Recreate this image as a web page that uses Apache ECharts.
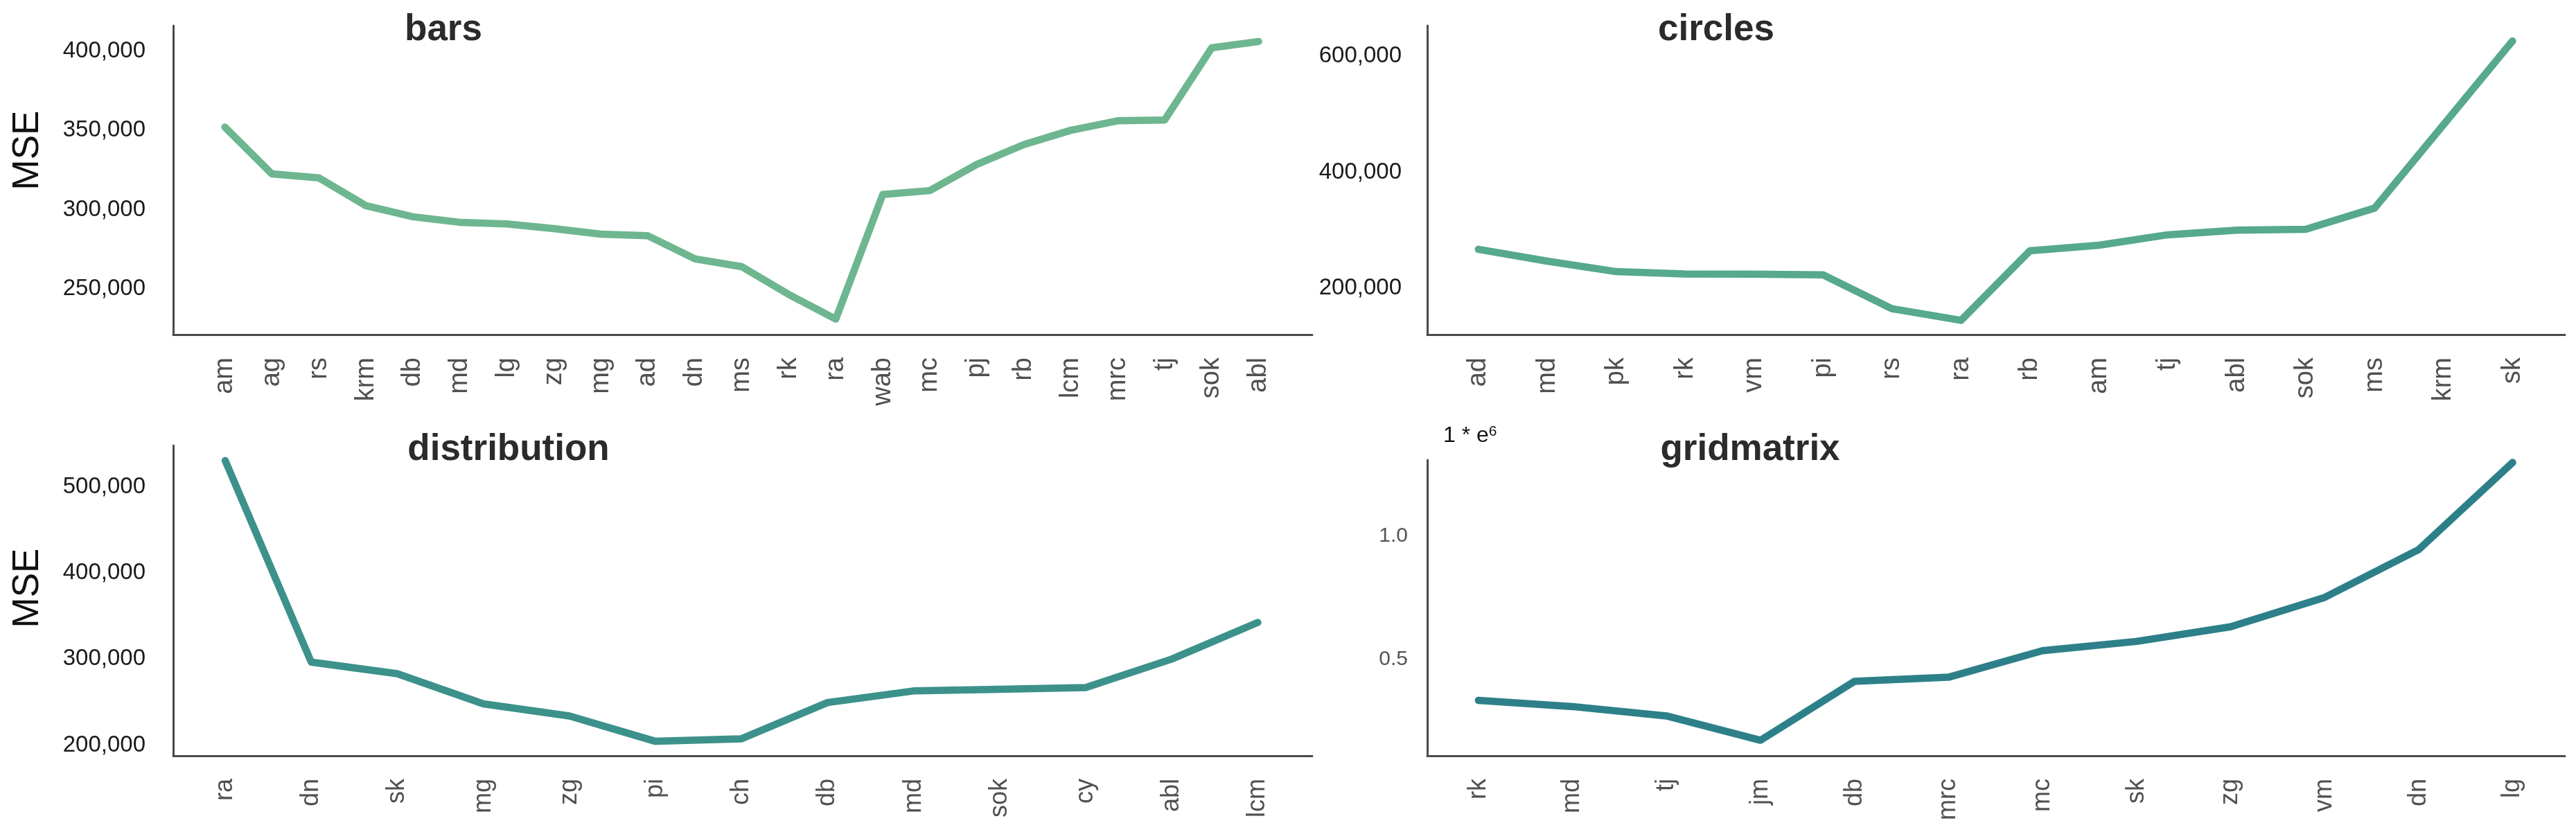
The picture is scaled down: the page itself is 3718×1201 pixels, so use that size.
<!DOCTYPE html>
<html>
<head>
<meta charset="utf-8">
<script src="https://cdn.jsdelivr.net/npm/echarts@6/dist/echarts.min.js"></script>
<style>
html,body{margin:0;padding:0;background:#fff;}
#c{width:3718px;height:1201px;}
</style>
</head>
<body>
<div id="c"></div>
<script>
// ---------- data ----------
const barsCats = ['am','ag','rs','krm','db','md','lg','zg','mg','ad','dn','ms','rk','ra','wab','mc','pj','rb','lcm','mrc','tj','sok','abl'];
const barsVals = [352000,322500,320000,302500,295500,292000,291000,288000,284500,283500,269000,264000,246500,231000,309500,312000,328500,341000,350000,356000,356500,402000,406000];
const barsTicks = [250000,300000,350000,400000];

const circlesCats = ['ad','md','pk','rk','vm','pi','rs','ra','rb','am','tj','abl','sok','ms','krm','sk'];
const circlesVals = [267500,247000,229000,225000,224500,223500,165000,145000,265000,274500,292500,300500,302000,338500,482500,626500];
const circlesTicks = [200000,400000,600000];

const distCats = ['ra','dn','sk','mg','zg','pi','ch','db','md','sok','cy','abl','lcm'];
const distVals = [530500,296500,283000,248000,234000,204500,207500,249500,263000,265000,267000,300000,342500];
const distTicks = [200000,300000,400000,500000];

const gridCats = ['rk','md','tj','jm','db','mrc','mc','sk','zg','vm','dn','lg'];
const gridVals = [334000,309000,271000,172000,411500,428000,536000,573500,633000,752000,946000,1300000];
const gridTicks = [500000,1000000];

// ---------- styles ----------
const AXIS_COLOR = '#4a4a4a';
const FONT = '"Liberation Sans", Arial, sans-serif';

function xAxisFor(i, cats, min, max, fontSize) {
  return {
    type: 'value', gridIndex: i, min: min, max: max,
    axisLine: { show: true, onZero: false, lineStyle: { color: AXIS_COLOR, width: 3 } },
    axisTick: { show: false },
    splitLine: { show: false },
    axisLabel: {
      customValues: cats.map((_, k) => k),
      formatter: v => { const k = Math.round(v); return cats[k] !== undefined ? cats[k] : ''; },
      rotate: 90, margin: 33, fontSize: fontSize, color: '#505050', fontFamily: FONT
    }
  };
}
function yAxisFor(i, ticks, min, max, fmt, margin, fontSize, color) {
  return {
    type: 'value', gridIndex: i, min: min, max: max,
    axisLine: { show: true, onZero: false, lineStyle: { color: AXIS_COLOR, width: 3 } },
    axisTick: { show: false },
    splitLine: { show: false },
    axisLabel: {
      customValues: ticks,
      formatter: fmt,
      margin: margin, fontSize: fontSize, color: color, fontFamily: FONT
    }
  };
}
const thousands = v => Math.round(v).toLocaleString('en-US');
const millions = v => (v / 1e6).toFixed(1);

function lineFor(i, vals, color) {
  return {
    type: 'line', xAxisIndex: i, yAxisIndex: i,
    data: vals.map((v, k) => [k, v]),
    symbol: 'none', silent: true,
    lineStyle: { width: 10.5, color: color, cap: 'round', join: 'round' }
  };
}
function titleText(x, y, text) {
  return { type: 'text', x: x, y: y, silent: true,
    style: { text: text, fontSize: 53, fontWeight: 'bold', fontFamily: FONT, fill: '#2b2b2b', align: 'center', verticalAlign: 'middle' } };
}
function mseText(x, y) {
  return { type: 'text', x: x, y: y, rotation: Math.PI / 2, silent: true,
    style: { text: 'MSE', fontSize: 53, fontFamily: FONT, fill: '#111', align: 'center', verticalAlign: 'middle' } };
}

const chart = echarts.init(document.getElementById('c'), null, { renderer: 'canvas' });
chart.setOption({
  animation: false,
  backgroundColor: '#fff',
  grid: [
    { left: 250, top: 37, width: 1644, height: 446 },
    { left: 2060, top: 37, width: 1642, height: 446 },
    { left: 250, top: 643, width: 1644, height: 448 },
    { left: 2060, top: 664, width: 1642, height: 427 }
  ],
  xAxis: [
    xAxisFor(0, barsCats, -1.1, 23.14, 38),
    xAxisFor(1, circlesCats, -0.742, 15.76, 38),
    xAxisFor(2, distCats, -0.604, 12.633, 36),
    xAxisFor(3, gridCats, -0.544, 11.556, 36)
  ],
  yAxis: [
    yAxisFor(0, barsTicks, 221200, 416000, thousands, 40, 33, '#1a1a1a'),
    yAxisFor(1, circlesTicks, 120450, 653000, thousands, 37, 33, '#1a1a1a'),
    yAxisFor(2, distTicks, 187700, 548000, thousands, 40, 33, '#1a1a1a'),
    yAxisFor(3, gridTicks, 109000, 1310000, millions, 28, 30, '#555')
  ],
  series: [
    lineFor(0, barsVals, '#6db690'),
    lineFor(1, circlesVals, '#56a98c'),
    lineFor(2, distVals, '#3c918b'),
    lineFor(3, gridVals, '#2d8089')
  ],
  graphic: [
    titleText(640, 43, 'bars'),
    titleText(2477, 43, 'circles'),
    titleText(734, 649, 'distribution'),
    titleText(2526, 649, 'gridmatrix'),
    mseText(40, 217),
    mseText(40, 849),
    { type: 'text', x: 2083, y: 629, silent: true,
      style: { text: '1 * e{s|6}', fontSize: 32, fontFamily: FONT, fill: '#111', align: 'left', verticalAlign: 'middle',
        rich: { s: { fontSize: 21, fontFamily: FONT, fill: '#111', verticalAlign: 'top' } } } }
  ]
});
</script>
</body>
</html>
